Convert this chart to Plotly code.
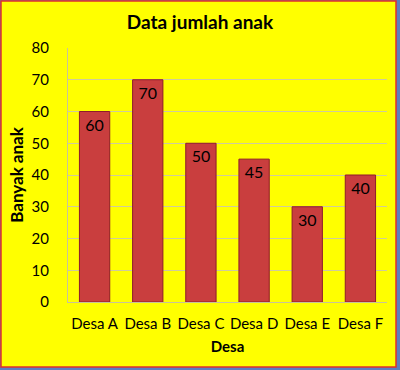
import plotly.graph_objects as go

categories = ["Desa A", "Desa B", "Desa C", "Desa D", "Desa E", "Desa F"]
values = [60, 70, 50, 45, 30, 40]
y_ticks = [0, 10, 20, 30, 40, 50, 60, 70, 80]

W, H = 400, 370
L, R, T, B = 68, 13, 48, 68
pw, ph = W - L - R, H - T - B

def px(X):
    return (X - L) / pw

def py(Y):
    return (H - B - Y) / ph

font = "Lato, 'Open Sans', sans-serif"

fig = go.Figure(go.Bar(
    x=categories, y=values, width=0.57,
    marker=dict(color="#C93E3E", line=dict(color="#8E1B2C", width=1)),
    text=[str(v) for v in values], textposition="inside", insidetextanchor="end",
    textfont=dict(family=font, size=16, color="#000000"),
    textangle=0, cliponaxis=False,
))

fig.update_layout(
    width=W, height=H,
    margin=dict(l=L, r=R, t=T, b=B),
    paper_bgcolor="#5B7FC0",
    plot_bgcolor="rgba(0,0,0,0)",
    showlegend=False,
    title=dict(text="<b>Data jumlah anak</b>", x=0.5, xref="container", xanchor="center",
               y=1 - 22 / H, yanchor="middle",
               font=dict(family=font, size=19, color="#000000")),
    shapes=[dict(type="rect", xref="paper", yref="paper", layer="below",
                 x0=px(1), x1=px(396), y0=py(367), y1=py(1),
                 fillcolor="#FFFF00", line=dict(color="#E0302A", width=1.5))],
    xaxis=dict(showgrid=False, showline=True, linecolor="#C8C39A", linewidth=1,
               ticks="", tickfont=dict(family=font, size=15, color="#000000"),
               ticklabelstandoff=8,
               title=dict(text="<b>Desa</b>", standoff=10,
                          font=dict(family=font, size=15, color="#000000"))),
    yaxis=dict(range=[0, 80], tickvals=y_ticks, showgrid=True, gridcolor="#CFCB9C",
               gridwidth=1, showline=True, linecolor="#C8C39A", linewidth=1,
               zeroline=False, ticks="", ticklabelstandoff=15,
               tickfont=dict(family=font, size=15, color="#000000"),
               title=dict(text="<b>Banyak anak</b>", standoff=3,
                          font=dict(family=font, size=17, color="#000000"))),
    bargap=0.43,
)

fig.write_html("out.html")
